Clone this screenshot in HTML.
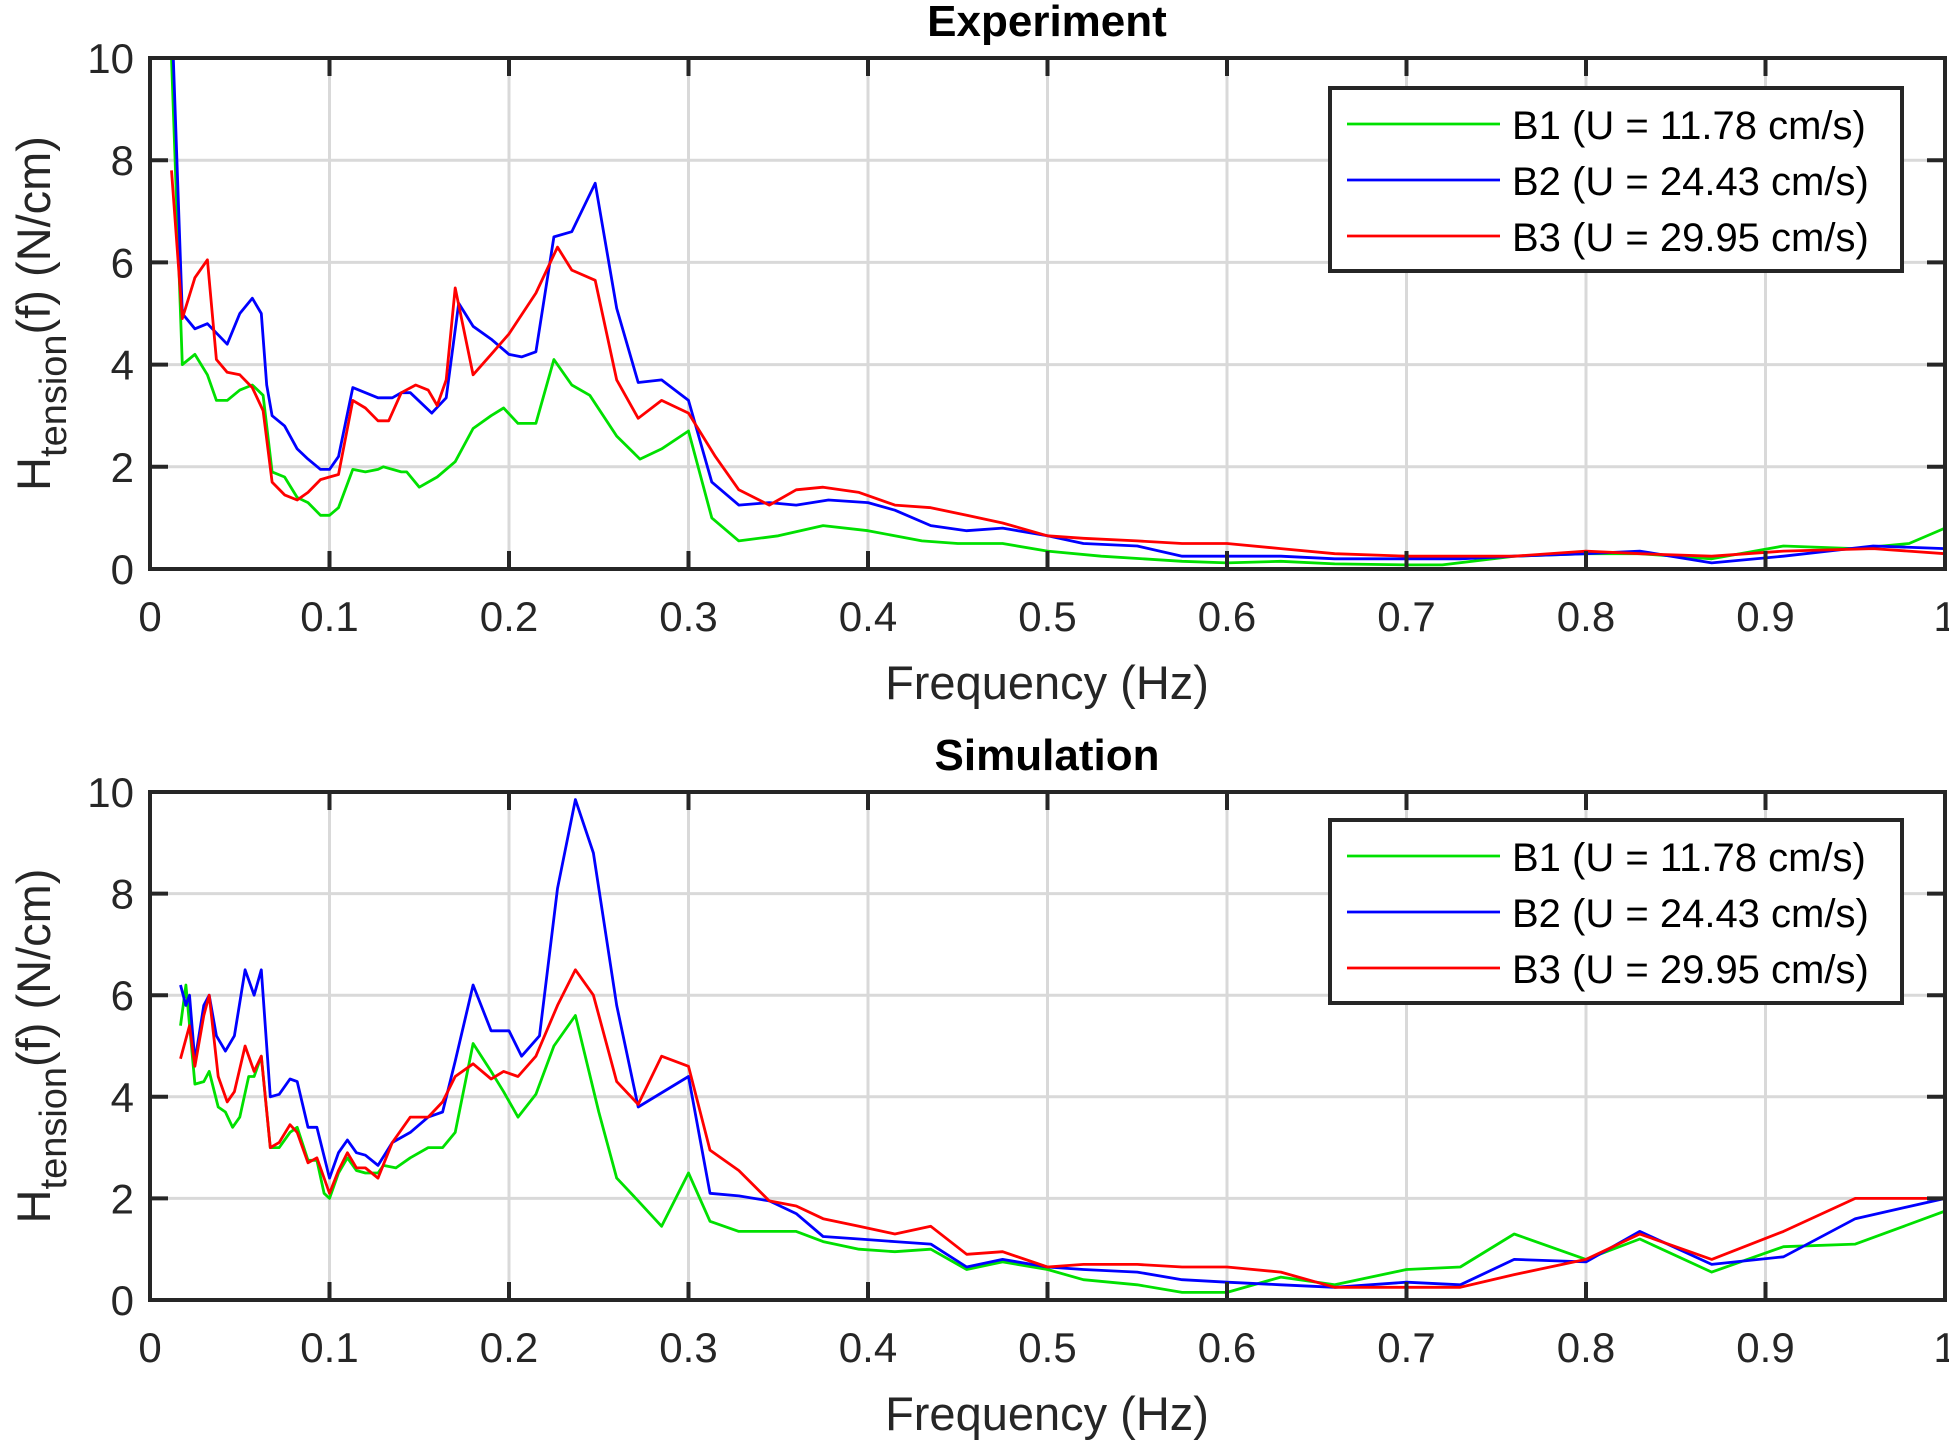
<!DOCTYPE html>
<html><head><meta charset="utf-8"><style>
html,body{margin:0;padding:0;background:#fff}
svg{display:block;font-family:"Liberation Sans",sans-serif}
</style></head><body>
<svg id="chart" width="1949" height="1442" viewBox="0 0 1949 1442"></svg>
<script>
// ---- data ----
const xTicks = [0,0.1,0.2,0.3,0.4,0.5,0.6,0.7,0.8,0.9,1];
const xTickLabels = ["0","0.1","0.2","0.3","0.4","0.5","0.6","0.7","0.8","0.9","1"];
const yTicks = [0,2,4,6,8,10];
const yTickLabels = ["0","2","4","6","8","10"];
const seriesNames = ["B1 (U = 11.78 cm/s)","B2 (U = 24.43 cm/s)","B3 (U = 29.95 cm/s)"];
const seriesColors = ["#00e000","#0000ff","#ff0000"];

const expB1f = [0.012,0.018,0.025,0.032,0.037,0.043,0.05,0.057,0.063,0.068,0.075,0.082,0.088,0.095,0.1,0.105,0.113,0.12,0.127,0.13,0.14,0.143,0.15,0.16,0.17,0.18,0.19,0.197,0.205,0.215,0.225,0.235,0.245,0.26,0.273,0.285,0.3,0.313,0.328,0.35,0.375,0.4,0.43,0.45,0.475,0.5,0.53,0.575,0.6,0.63,0.66,0.7,0.72,0.76,0.8,0.83,0.87,0.91,0.95,0.98,1.0];
const expB1v = [10,4,4.2,3.8,3.3,3.3,3.5,3.6,3.4,1.9,1.8,1.4,1.3,1.05,1.05,1.2,1.95,1.9,1.95,2.0,1.9,1.9,1.6,1.8,2.1,2.75,3.0,3.15,2.85,2.85,4.1,3.6,3.4,2.6,2.15,2.35,2.7,1.0,0.55,0.65,0.85,0.75,0.55,0.5,0.5,0.35,0.25,0.15,0.12,0.15,0.1,0.08,0.08,0.25,0.3,0.3,0.2,0.45,0.4,0.5,0.8];
const expB2f = [0.013,0.018,0.025,0.032,0.043,0.05,0.057,0.062,0.065,0.068,0.075,0.082,0.088,0.095,0.1,0.105,0.113,0.12,0.127,0.135,0.14,0.145,0.157,0.165,0.172,0.18,0.19,0.2,0.207,0.215,0.225,0.235,0.248,0.26,0.272,0.285,0.3,0.313,0.328,0.345,0.36,0.378,0.4,0.415,0.435,0.455,0.475,0.5,0.52,0.55,0.575,0.6,0.63,0.66,0.7,0.73,0.76,0.8,0.83,0.87,0.91,0.96,1.0];
const expB2v = [10,5.0,4.7,4.8,4.4,5.0,5.3,5.0,3.6,3.0,2.8,2.35,2.15,1.95,1.95,2.2,3.55,3.45,3.35,3.35,3.45,3.45,3.05,3.35,5.2,4.75,4.5,4.2,4.15,4.25,6.5,6.6,7.55,5.1,3.65,3.7,3.3,1.7,1.25,1.3,1.25,1.35,1.3,1.15,0.85,0.75,0.8,0.65,0.5,0.45,0.25,0.25,0.25,0.2,0.2,0.2,0.25,0.3,0.35,0.12,0.25,0.45,0.4];
const expB3f = [0.012,0.018,0.025,0.032,0.037,0.043,0.05,0.057,0.063,0.068,0.075,0.082,0.088,0.095,0.1,0.105,0.113,0.12,0.127,0.133,0.14,0.148,0.155,0.16,0.165,0.17,0.18,0.19,0.2,0.215,0.227,0.235,0.248,0.26,0.272,0.285,0.3,0.315,0.328,0.345,0.36,0.375,0.395,0.415,0.435,0.455,0.475,0.5,0.52,0.55,0.575,0.6,0.63,0.66,0.7,0.73,0.76,0.8,0.83,0.87,0.91,0.96,1.0];
const expB3v = [7.8,4.9,5.7,6.05,4.1,3.85,3.8,3.55,3.1,1.7,1.45,1.35,1.5,1.75,1.8,1.85,3.3,3.15,2.9,2.9,3.45,3.6,3.5,3.2,3.7,5.5,3.8,4.2,4.6,5.4,6.3,5.85,5.65,3.7,2.95,3.3,3.05,2.2,1.55,1.25,1.55,1.6,1.5,1.25,1.2,1.05,0.9,0.65,0.6,0.55,0.5,0.5,0.4,0.3,0.25,0.25,0.25,0.35,0.3,0.25,0.35,0.4,0.3];

const simB1f = [0.017,0.02,0.025,0.03,0.033,0.038,0.042,0.046,0.05,0.055,0.058,0.062,0.067,0.072,0.078,0.082,0.088,0.093,0.097,0.1,0.105,0.11,0.115,0.12,0.127,0.13,0.137,0.145,0.155,0.163,0.17,0.18,0.19,0.197,0.205,0.215,0.225,0.237,0.25,0.26,0.272,0.285,0.3,0.312,0.328,0.345,0.36,0.375,0.395,0.415,0.435,0.455,0.475,0.5,0.52,0.55,0.575,0.6,0.63,0.66,0.7,0.73,0.76,0.8,0.83,0.87,0.91,0.95,1.0];
const simB1v = [5.4,6.2,4.25,4.3,4.5,3.8,3.7,3.4,3.6,4.4,4.4,4.8,3.0,3.0,3.3,3.4,2.75,2.75,2.1,2.0,2.5,2.8,2.55,2.5,2.5,2.65,2.6,2.8,3.0,3.0,3.3,5.05,4.5,4.1,3.6,4.05,5.0,5.6,3.7,2.4,1.95,1.45,2.5,1.55,1.35,1.35,1.35,1.15,1.0,0.95,1.0,0.6,0.75,0.6,0.4,0.3,0.15,0.15,0.45,0.3,0.6,0.65,1.3,0.8,1.2,0.55,1.05,1.1,1.75];
const simB2f = [0.017,0.02,0.022,0.025,0.03,0.033,0.037,0.042,0.047,0.053,0.058,0.062,0.067,0.072,0.078,0.082,0.088,0.093,0.1,0.105,0.11,0.115,0.12,0.127,0.135,0.145,0.155,0.163,0.17,0.18,0.19,0.2,0.207,0.217,0.227,0.237,0.247,0.26,0.272,0.3,0.312,0.328,0.345,0.36,0.375,0.395,0.415,0.435,0.455,0.475,0.5,0.52,0.55,0.575,0.6,0.63,0.66,0.7,0.73,0.76,0.8,0.83,0.87,0.91,0.95,1.0];
const simB2v = [6.2,5.8,6.0,4.7,5.8,6.0,5.2,4.9,5.2,6.5,6.0,6.5,4.0,4.05,4.35,4.3,3.4,3.4,2.4,2.9,3.15,2.9,2.85,2.65,3.1,3.3,3.6,3.7,4.7,6.2,5.3,5.3,4.8,5.2,8.1,9.85,8.8,5.8,3.8,4.4,2.1,2.05,1.95,1.7,1.25,1.2,1.15,1.1,0.65,0.8,0.65,0.6,0.55,0.4,0.35,0.3,0.25,0.35,0.3,0.8,0.75,1.35,0.7,0.85,1.6,2.0];
const simB3f = [0.017,0.022,0.025,0.03,0.033,0.038,0.043,0.047,0.053,0.058,0.062,0.067,0.072,0.078,0.082,0.088,0.093,0.1,0.105,0.11,0.115,0.12,0.127,0.135,0.145,0.155,0.163,0.17,0.18,0.19,0.197,0.205,0.215,0.227,0.237,0.247,0.26,0.272,0.285,0.3,0.312,0.328,0.345,0.36,0.375,0.395,0.415,0.435,0.455,0.475,0.5,0.52,0.55,0.575,0.6,0.63,0.66,0.7,0.73,0.76,0.8,0.83,0.87,0.91,0.95,1.0];
const simB3v = [4.75,5.4,4.6,5.6,6.0,4.4,3.9,4.1,5.0,4.5,4.8,3.0,3.1,3.45,3.3,2.7,2.8,2.1,2.55,2.9,2.6,2.6,2.4,3.1,3.6,3.6,3.9,4.4,4.65,4.35,4.5,4.4,4.8,5.8,6.5,6.0,4.3,3.85,4.8,4.6,2.95,2.55,1.95,1.85,1.6,1.45,1.3,1.45,0.9,0.95,0.65,0.7,0.7,0.65,0.65,0.55,0.25,0.25,0.25,0.5,0.8,1.3,0.8,1.35,2.0,2.0];

const NS = "http://www.w3.org/2000/svg";
const svg = document.getElementById("chart");
function mk(tag, attrs, parent){
  const e = document.createElementNS(NS, tag);
  for (const k in attrs) e.setAttribute(k, attrs[k]);
  (parent||svg).appendChild(e);
  return e;
}
const X0 = 150, X1 = 1945;
const xScale = f => X0 + (X1 - X0) * f;

function drawPanel(key, title, top, bottom, series, legTop){
  const yScale = v => bottom - (bottom - top) * v / 10;
  const g = mk("g", {});
  
  
  xTicks.forEach((t, i) => {
    const l = mk("line", {x1:xScale(t), x2:xScale(t), y1:top, y2:bottom, stroke:"#d9d9d9", "stroke-width":3}, g);
    
    
  });
  yTicks.forEach(t => {
    const l = mk("line", {x1:X0, x2:X1, y1:yScale(t), y2:yScale(t), stroke:"#d9d9d9", "stroke-width":3}, g);
    
    
  });
  const clipId = key + "-clip";
  const cp = mk("clipPath", {id: clipId}, g);
  mk("rect", {x:X0, y:top, width:X1-X0, height:bottom-top}, cp);
  series.forEach((s, i) => {
    const d = s.f.map((f, j) => (j ? "L" : "M") + xScale(f).toFixed(1) + "," + yScale(s.v[j]).toFixed(1)).join("");
    const p = mk("path", {d, fill:"none", stroke:seriesColors[i], "stroke-width":2.8, "stroke-linejoin":"round", "clip-path":"url(#"+clipId+")"}, g);
    
    
  });
  const box = mk("rect", {x:X0, y:top, width:X1-X0, height:bottom-top, fill:"none", stroke:"#262626", "stroke-width":4}, g);
  
  
  xTicks.forEach((t, i) => {
    mk("line", {x1:xScale(t), x2:xScale(t), y1:bottom, y2:bottom-18, stroke:"#262626", "stroke-width":4}, g);
    mk("line", {x1:xScale(t), x2:xScale(t), y1:top, y2:top+18, stroke:"#262626", "stroke-width":4}, g);
    const tx = mk("text", {x:xScale(t), y:bottom+62, "text-anchor":"middle", "font-size":42, fill:"#262626"}, g);
    tx.textContent = xTickLabels[i];
    
    
  });
  yTicks.forEach((t, i) => {
    mk("line", {x1:X0, x2:X0+18, y1:yScale(t), y2:yScale(t), stroke:"#262626", "stroke-width":4}, g);
    mk("line", {x1:X1, x2:X1-18, y1:yScale(t), y2:yScale(t), stroke:"#262626", "stroke-width":4}, g);
    const tx = mk("text", {x:X0-16, y:yScale(t)+15, "text-anchor":"end", "font-size":42, fill:"#262626"}, g);
    tx.textContent = yTickLabels[i];
    
    
  });
  const tt = mk("text", {x:1047, y:top-22, "text-anchor":"middle", "font-size":44, "font-weight":"bold", fill:"#000"}, g);
  tt.textContent = title;
  
  
  const xl = mk("text", {x:1047, y:bottom+130, "text-anchor":"middle", "font-size":47, fill:"#262626"}, g);
  xl.textContent = "Frequency (Hz)";
  
  
  const cy = (top + bottom) / 2;
  const yl = mk("text", {x:0, y:0, "text-anchor":"middle", "font-size":47, fill:"#262626", transform:"translate(50,"+cy+") rotate(-90)"}, g);
  
  
  const t1 = mk("tspan", {}, yl); t1.textContent = "H";
  const t2 = mk("tspan", {dy:16, "font-size":38}, yl); t2.textContent = "tension";
  const t3 = mk("tspan", {dy:-16}, yl); t3.textContent = "(f) (N/cm)";
  const lg = mk("g", {}, g);
  
  
  mk("rect", {x:1330, y:legTop, width:572, height:183, fill:"#fff", stroke:"#262626", "stroke-width":4}, lg);
  seriesNames.forEach((n, i) => {
    const ly = legTop + 36 + i * 56;
    const le = mk("g", {}, lg);
    
    
    mk("line", {x1:1347, x2:1500, y1:ly, y2:ly, stroke:seriesColors[i], "stroke-width":2.8}, le);
    const tx = mk("text", {x:1512, y:ly+15, "font-size":40, fill:"#000"}, le);
    tx.textContent = n;
  });
}

drawPanel("experiment", "Experiment", 58, 569, [
  {f:expB1f, v:expB1v},{f:expB2f, v:expB2v},{f:expB3f, v:expB3v}], 88);
drawPanel("simulation", "Simulation", 792, 1300, [
  {f:simB1f, v:simB1v},{f:simB2f, v:simB2v},{f:simB3f, v:simB3v}], 820);
</script>
</body></html>
